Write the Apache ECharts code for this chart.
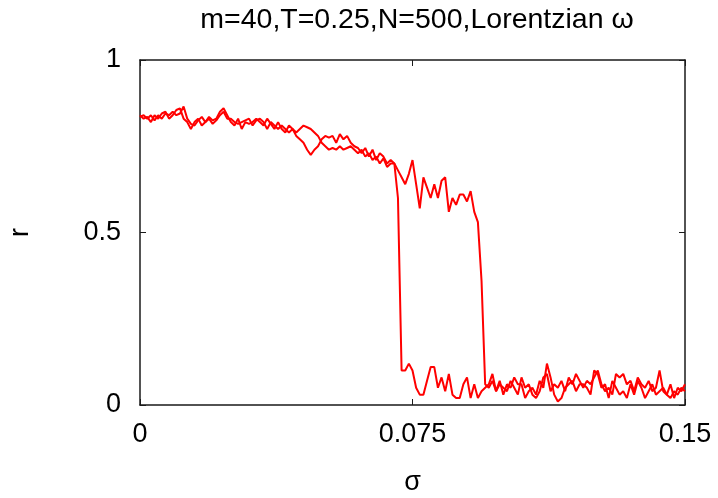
<!DOCTYPE html>
<html>
<head>
<meta charset="utf-8">
<script src="https://cdn.jsdelivr.net/npm/echarts@6/dist/echarts.min.js"></script>
<style>html,body{margin:0;padding:0;background:#fff}#c{width:718px;height:498px}</style>
</head>
<body>
<div id="c"></div>
<script>
const titleText = 'm=40,T=0.25,N=500,Lorentzian ω';
const xTickLabels = ['0', '0.075', '0.15'];
const yTickLabels = ['0', '0.5', '1'];
const sigma = [
0.000,0.001,0.002,0.003,0.004,0.005,0.006,0.007,0.008,0.009,
0.010,0.011,0.012,0.013,0.014,0.015,0.016,0.017,0.018,0.019,
0.020,0.021,0.022,0.023,0.024,0.025,0.026,0.027,0.028,0.029,
0.030,0.031,0.032,0.033,0.034,0.035,0.036,0.037,0.038,0.039,
0.040,0.041,0.042,0.043,0.044,0.045,0.046,0.047,0.048,0.049,
0.050,0.051,0.052,0.053,0.054,0.055,0.056,0.057,0.058,0.059,
0.060,0.061,0.062,0.063,0.064,0.065,0.066,0.067,0.068,0.069,
0.070,0.071,0.072,0.073,0.074,0.075,0.076,0.077,0.078,0.079,
0.080,0.081,0.082,0.083,0.084,0.085,0.086,0.087,0.088,0.089,
0.090,0.091,0.092,0.093,0.094,0.095,0.096,0.097,0.098,0.099,
0.100,0.101,0.102,0.103,0.104,0.105,0.106,0.107,0.108,0.109,
0.110,0.111,0.112,0.113,0.114,0.115,0.116,0.117,0.118,0.119,
0.120,0.121,0.122,0.123,0.124,0.125,0.126,0.127,0.128,0.129,
0.130,0.131,0.132,0.133,0.134,0.135,0.136,0.137,0.138,0.139,
0.140,0.141,0.142,0.143,0.144,0.145,0.146,0.147,0.148,0.149,
0.150];
const rBranchA = [
0.84,0.83,0.835,0.82,0.84,0.83,0.845,0.85,0.83,0.84,0.855,
0.86,0.83,0.82,0.80,0.82,0.83,0.81,0.82,0.835,0.825,
0.83,0.85,0.86,0.84,0.82,0.81,0.83,0.80,0.82,0.815,
0.82,0.83,0.82,0.81,0.83,0.815,0.80,0.82,0.80,0.79,
0.81,0.80,0.78,0.77,0.76,0.74,0.725,0.74,0.75,0.77,
0.78,0.775,0.78,0.76,0.785,0.77,0.78,0.76,0.75,0.745,
0.73,0.745,0.72,0.74,0.71,0.73,0.72,0.70,0.71,0.70,
0.60,0.10,0.10,0.12,0.10,0.05,0.03,0.03,0.07,0.11,
0.11,0.05,0.08,0.04,0.09,0.03,0.02,0.02,0.06,0.08,
0.02,0.06,0.02,0.04,0.05,
0.06,0.09,0.04,0.07,0.03,0.06,0.05,0.08,0.06,0.06,
0.02,0.04,0.05,0.03,0.07,0.05,0.12,0.08,0.03,0.01,
0.02,0.05,0.06,0.07,0.04,0.06,0.06,0.05,0.03,0.10,
0.09,0.05,0.06,0.02,0.07,0.05,0.03,0.04,0.02,0.06,
0.03,0.07,0.05,0.02,0.04,0.06,0.03,0.04,0.05,0.03,
0.02,0.04,0.03,0.05,0.04];
const rBranchB = [
0.835,0.84,0.83,0.84,0.825,0.84,0.83,0.845,0.84,0.85,0.84,
0.845,0.865,0.83,0.815,0.81,0.825,0.835,0.82,0.83,0.815,
0.825,0.84,0.85,0.83,0.83,0.82,0.815,0.82,0.825,0.83,
0.81,0.825,0.83,0.82,0.80,0.82,0.81,0.80,0.81,0.80,
0.79,0.80,0.79,0.80,0.81,0.805,0.80,0.79,0.78,0.76,
0.75,0.74,0.745,0.74,0.75,0.74,0.745,0.75,0.74,0.73,
0.74,0.72,0.73,0.71,0.72,0.70,0.715,0.69,0.70,0.70,
0.68,0.66,0.64,0.67,0.71,0.64,0.57,0.66,0.63,0.60,
0.64,0.60,0.65,0.66,0.56,0.60,0.58,0.61,0.61,0.59,
0.62,0.56,0.53,0.36,0.06,
0.05,0.07,0.04,0.06,0.05,0.04,0.07,0.05,0.03,0.08,
0.05,0.06,0.03,0.02,0.04,0.08,0.09,0.04,0.06,0.05,
0.07,0.04,0.08,0.06,0.09,0.07,0.05,0.07,0.06,0.08,
0.10,0.06,0.04,0.05,0.03,0.09,0.08,0.09,0.06,0.07,
0.04,0.08,0.06,0.05,0.07,0.04,0.05,0.10,0.04,0.03,
0.06,0.02,0.05,0.04,0.06];

const font = 'Liberation Sans, Arial, sans-serif';
const axisColor = '#1a1a1a';
function pairs(ys) { return sigma.map((s, i) => [s, ys[i]]); }
const xFmt = v => xTickLabels[Math.round(v / 0.075)];
const yFmt = v => yTickLabels[Math.round(v / 0.5)];

const chart = echarts.init(document.getElementById('c'), null, {renderer: 'canvas'});
const commonLine = {show: true, onZero: false, lineStyle: {color: axisColor, width: 1.5}};
chart.setOption({
  animation: false,
  backgroundColor: '#fff',
  title: {
    text: titleText, left: 412, top: 1, textAlign: 'center',
    textStyle: {fontFamily: font, fontSize: 28.5, fontWeight: 'normal', color: '#000'}
  },
  grid: {left: 140, right: 33, top: 60, bottom: 93, containLabel: false, outerBoundsMode: 'none'},
  xAxis: [{
    type: 'value', min: 0, max: 0.15, interval: 0.075,
    axisLine: commonLine,
    axisTick: {show: true, inside: true, length: 6, lineStyle: {color: axisColor, width: 1}},
    splitLine: {show: false},
    axisLabel: {formatter: xFmt, fontFamily: font, fontSize: 27, color: '#000', margin: 16, showMinLabel: true, showMaxLabel: true},
    name: 'σ', nameLocation: 'middle', nameGap: 64,
    nameTextStyle: {fontFamily: font, fontSize: 27, color: '#000'}
  }, {
    type: 'value', position: 'top', min: 0, max: 0.15, interval: 0.075,
    axisLine: commonLine,
    axisTick: {show: true, inside: true, length: 6, lineStyle: {color: axisColor, width: 1}},
    splitLine: {show: false}, axisLabel: {show: false}
  }],
  yAxis: [{
    type: 'value', min: 0, max: 1, interval: 0.5,
    axisLine: commonLine,
    axisTick: {show: true, inside: true, length: 6, lineStyle: {color: axisColor, width: 1}},
    splitLine: {show: false},
    axisLabel: {formatter: yFmt, fontFamily: font, fontSize: 27, color: '#000', margin: 19, showMinLabel: true, showMaxLabel: true},
    name: 'r', nameLocation: 'middle', nameGap: 106, nameRotate: 90,
    nameTextStyle: {fontFamily: font, fontSize: 27, color: '#000'}
  }, {
    type: 'value', position: 'right', min: 0, max: 1, interval: 0.5,
    axisLine: commonLine,
    axisTick: {show: true, inside: true, length: 6, lineStyle: {color: axisColor, width: 1}},
    splitLine: {show: false}, axisLabel: {show: false}
  }],
  series: [{
    type: 'line', name: 'branch A', xAxisIndex: 0, yAxisIndex: 0,
    data: pairs(rBranchA), showSymbol: false, symbol: 'none',
    lineStyle: {color: '#ff0000', width: 2}
  }, {
    type: 'line', name: 'branch B', xAxisIndex: 0, yAxisIndex: 0,
    data: pairs(rBranchB), showSymbol: false, symbol: 'none',
    lineStyle: {color: '#ff0000', width: 2}
  }]
});
</script>
</body>
</html>
